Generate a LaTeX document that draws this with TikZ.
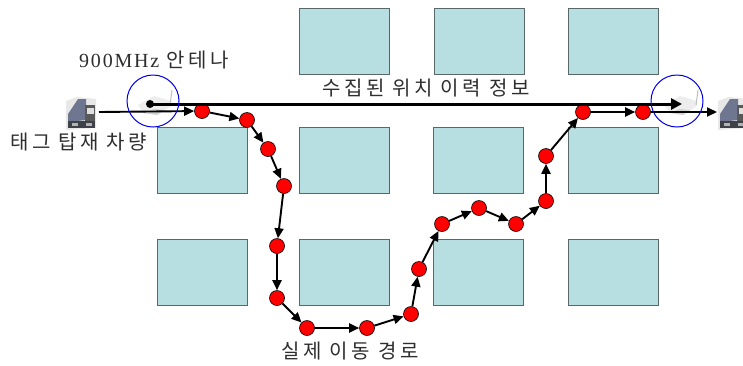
\documentclass[tikz,border=0pt]{standalone}
\usepackage{fontspec}
\setmainfont{Liberation Serif}
\newfontfamily\krfont{Noto Sans CJK KR}[LetterSpace=17.5]
\newfontfamily\latfont{Liberation Serif}[LetterSpace=9]
\usetikzlibrary{arrows.meta}
\definecolor{boxfill}{HTML}{B7DEE1}
\definecolor{boxline}{HTML}{56686A}
\definecolor{labelgray}{HTML}{2E2E2E}
\definecolor{truckblue}{HTML}{6F7690}
\definecolor{truckdark}{HTML}{3F4148}
\tikzset{
  x=1pt,y=-1pt,
  blockbox/.style={draw=boxline,line width=1.1pt,fill=boxfill,minimum width=90pt,minimum height=66pt,inner sep=0pt,anchor=north west},
  waypoint/.style={circle,draw=black,line width=0.6pt,fill=red,minimum size=15pt,inner sep=0pt},
  hop/.style={draw=black,line width=1.9pt,-{Triangle[length=10pt,width=9pt]}},
  mainline/.style={draw=black,line width=3pt,-{Triangle[length=11pt,width=11pt]}},
  rangecircle/.style={circle,draw=blue!90!black,line width=1pt,minimum size=52pt,inner sep=0pt},
  lbl/.style={font=\krfont\fontsize{20}{22}\selectfont,text=labelgray,inner sep=0pt},
}
\newcommand{\truckicon}[2]{%
  \begin{scope}[shift={(#1,#2)}]
    \fill[gray!18] (-15,-12) -- (-4,-16) -- (15,-14) -- (15,15) -- (-15,17) -- cycle;
    \fill[truckblue] (-13,1) -- (-3,-14) -- (5,-14) -- (5,7) -- (-13,9) -- cycle;
    \fill[gray!70!black] (4,-8) rectangle (14,10);
    \fill[gray!25] (6,-5) rectangle (13,1);
    \fill[truckdark] (-13,8) rectangle (14,15);
    \fill[gray!60] (-9,10) rectangle (-3,13);
    \fill[gray!60] (5,10) rectangle (11,13);
  \end{scope}}
\newcommand{\antennaicon}[2]{%
  \begin{scope}[shift={(#1,#2)}]
    \fill[gray!14] (-14,3) -- (2,-6) -- (19,-1) -- (19,4) -- (5,13) -- (-8,11) -- cycle;
    \fill[gray!35] (-8,11) -- (5,13) -- (12,8) -- (2,7) -- cycle;
    \draw[gray!50,line width=1pt] (20,-12) -- (18,3);
  \end{scope}}
\begin{document}
\begin{tikzpicture}
\useasboundingbox (0,0) rectangle (743,365);
\fill[white] (0,0) rectangle (743,365);
% blocks
\node[blockbox] (t2) at (299,8) {};
\node[blockbox] (t3) at (434,8) {};
\node[blockbox] (t4) at (568,8) {};
\node[blockbox] (m1) at (157,127) {};
\node[blockbox] (m2) at (299,127) {};
\node[blockbox] (m3) at (433,127) {};
\node[blockbox] (m4) at (568,127) {};
\node[blockbox] (b1) at (157,239) {};
\node[blockbox] (b2) at (299,239) {};
\node[blockbox] (b3) at (433,239) {};
\node[blockbox] (b4) at (568,239) {};
% icons
\antennaicon{152}{102}
\antennaicon{678}{102}
\truckicon{81}{113}
\truckicon{733}{113}
% anchors
\coordinate (src) at (99,112);
\coordinate (dst) at (717,112);
\node[circle,fill=black,minimum size=8pt,inner sep=0pt] (start) at (150,104) {};
\coordinate (end) at (682,104);
% waypoints
\node[waypoint] (p1) at (202,111) {};
\node[waypoint] (p2) at (247,120) {};
\node[waypoint] (p3) at (268,149) {};
\node[waypoint] (p4) at (284,186) {};
\node[waypoint] (p5) at (277,246) {};
\node[waypoint] (p6) at (277,298) {};
\node[waypoint] (p7) at (307,328) {};
\node[waypoint] (p8) at (367,328) {};
\node[waypoint] (p9) at (411,314) {};
\node[waypoint] (p10) at (419,269) {};
\node[waypoint] (p11) at (442,224) {};
\node[waypoint] (p12) at (479,208) {};
\node[waypoint] (p13) at (516,224) {};
\node[waypoint] (p14) at (546,201) {};
\node[waypoint] (p15) at (546,156) {};
\node[waypoint] (p16) at (583,112) {};
\node[waypoint] (p17) at (643,112) {};
% connectors
\draw[hop] (src) -- (p1);
\foreach \a/\b in {p1/p2,p2/p3,p3/p4,p4/p5,p5/p6,p6/p7,p7/p8,p8/p9,p9/p10,p10/p11,p11/p12,p12/p13,p13/p14,p14/p15,p15/p16,p16/p17}{
  \draw[hop] (\a) -- (\b);
}
\draw[hop] (p17) -- (dst);
\draw[mainline] (start.center) -- (end);
% range circles
\node[rangecircle] (c1) at (153,101) {};
\node[rangecircle] (c2) at (677,101) {};
% labels
\node[lbl,anchor=base west] (l1) at (79,67) {{\latfont\fontsize{20}{22}\selectfont 900MHz}\hspace{7pt}{\fontsize{20}{22}\selectfont 안테나}};
\node[lbl,anchor=base] (l2) at (426,95) {수집된 위치 이력 정보};
\node[lbl,anchor=base west] (l3) at (10,149) {태그 탑재 차량};
\node[lbl,anchor=base] (l4) at (350,358) {실제 이동 경로};
\end{tikzpicture}
\end{document}
